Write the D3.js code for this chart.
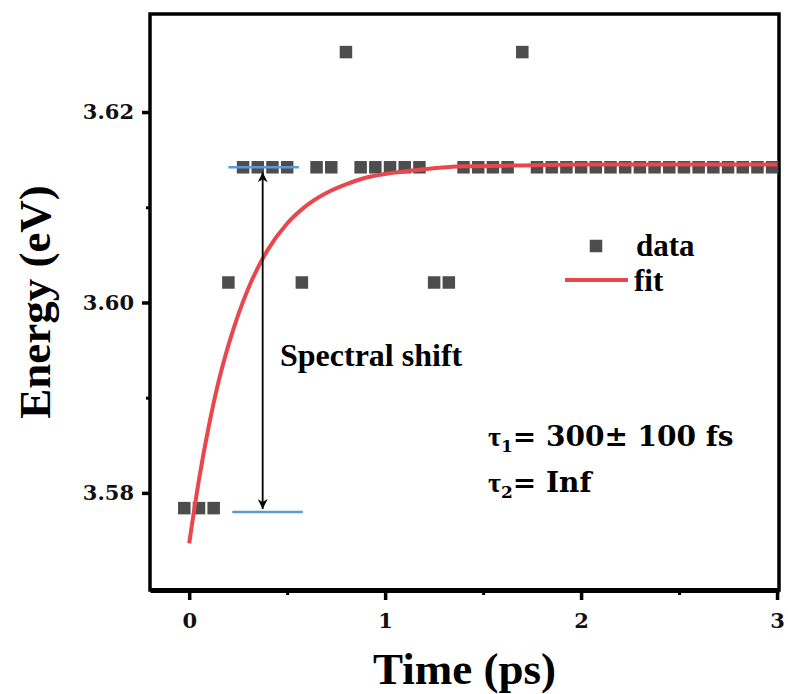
<!DOCTYPE html>
<html>
<head>
<meta charset="utf-8">
<script src="https://cdn.jsdelivr.net/npm/d3@7"></script>
<style>
  body { margin: 0; background: #fff; }
  svg { display: block; }
</style>
</head>
<body>
<div id="chart"></div>
<script>
// measured data (time in ps, energy in eV)
const times = [-0.025, 0.05, 0.125, 0.2, 0.275, 0.35, 0.425, 0.5, 0.575, 0.65,
  0.725, 0.8, 0.875, 0.95, 1.025, 1.1, 1.175, 1.25, 1.325, 1.4,
  1.475, 1.55, 1.625, 1.7, 1.775, 1.85, 1.925, 2.0, 2.075, 2.15,
  2.225, 2.3, 2.375, 2.45, 2.525, 2.6, 2.675, 2.75, 2.825, 2.9, 2.975];
const energies = [3.5784, 3.5784, 3.5784, 3.6021, 3.6142, 3.6142, 3.6142, 3.6142, 3.6021, 3.6142,
  3.6142, 3.6263, 3.6142, 3.6142, 3.6142, 3.6142, 3.6142, 3.6021, 3.6021, 3.6142,
  3.6142, 3.6142, 3.6142, 3.6263, 3.6142, 3.6142, 3.6142, 3.6142, 3.6142, 3.6142,
  3.6142, 3.6142, 3.6142, 3.6142, 3.6142, 3.6142, 3.6142, 3.6142, 3.6142, 3.6142, 3.6142];

// fit curve
const fitTimes = [0, 0.05, 0.1, 0.15, 0.2, 0.25, 0.3, 0.4, 0.5, 0.6, 0.7, 0.8, 0.9, 1.0, 1.2, 1.4, 1.7, 2.0, 2.5, 3.0];
const fitEnergies = [3.5747, 3.5814, 3.5870, 3.5917, 3.5955, 3.5987, 3.6014, 3.6055, 3.6083, 3.6102,
  3.6115, 3.6124, 3.6131, 3.6135, 3.6140, 3.6143, 3.6144, 3.6145, 3.6145, 3.6145];

// spectral shift markers
const shiftTop = { t0: 0.2, t1: 0.56, e: 3.6142 };
const shiftBottom = { t0: 0.22, t1: 0.58, e: 3.5780 };
const shiftArrowT = 0.375;

const xTicks = [0, 1, 2, 3];
const xMinor = [0.5, 1.5, 2.5];
const yTicks = [3.58, 3.60, 3.62];
const yMinor = [3.59, 3.61];

const width = 788;
const height = 694;
const marginLeft = 150, marginRight = 9, marginTop = 14, marginBottom = 104;

const x = d3.scaleLinear([-0.2, 3.01], [marginLeft, width - marginRight]);
const y = d3.scaleLinear([3.5698, 3.6303], [height - marginBottom, marginTop]);

const svg = d3.select("#chart").append("svg")
    .attr("width", width)
    .attr("height", height)
    .attr("viewBox", [0, 0, width, height]);

const defs = svg.append("defs");
defs.append("marker")
    .attr("id", "head")
    .attr("viewBox", "0 0 10 10")
    .attr("refX", 10).attr("refY", 5)
    .attr("markerWidth", 15).attr("markerHeight", 10)
    .attr("markerUnits", "userSpaceOnUse")
    .attr("orient", "auto-start-reverse")
    .append("path")
    .attr("d", "M0,0L10,5L0,10L3,5Z")
    .attr("fill", "#000");

const tickFont = "'DejaVu Serif', serif";
const textFont = "'Liberation Serif', 'Times New Roman', serif";

// x axis
svg.append("g")
    .attr("transform", `translate(0,${height - marginBottom})`)
    .call(d3.axisBottom(x).tickValues(xTicks).tickFormat(d3.format("d")).tickSize(10).tickPadding(13).tickSizeOuter(0))
    .call(g => g.select(".domain").attr("stroke-width", 5))
    .call(g => g.selectAll(".tick line").attr("stroke-width", 3.5))
    .call(g => g.selectAll(".tick text")
        .attr("font-family", tickFont).attr("font-weight", "bold").attr("font-size", 21).attr("fill", "#111"));

svg.append("g")
    .attr("transform", `translate(0,${height - marginBottom})`)
    .call(d3.axisBottom(x).tickValues(xMinor).tickFormat("").tickSize(5).tickSizeOuter(0))
    .call(g => g.select(".domain").remove())
    .call(g => g.selectAll(".tick line").attr("stroke-width", 3));

// y axis
svg.append("g")
    .attr("transform", `translate(${marginLeft},0)`)
    .call(d3.axisLeft(y).tickValues(yTicks).tickFormat(d3.format(".2f")).tickSize(8).tickPadding(8).tickSizeOuter(0))
    .call(g => g.select(".domain").remove())
    .call(g => g.selectAll(".tick line").attr("stroke-width", 3.5))
    .call(g => g.selectAll(".tick text")
        .attr("font-family", tickFont).attr("font-weight", "bold").attr("font-size", 21).attr("fill", "#111"));

svg.append("g")
    .attr("transform", `translate(${marginLeft},0)`)
    .call(d3.axisLeft(y).tickValues(yMinor).tickFormat("").tickSize(4).tickSizeOuter(0))
    .call(g => g.select(".domain").remove())
    .call(g => g.selectAll(".tick line").attr("stroke-width", 3));

// frame
svg.append("rect")
    .attr("x", x.range()[0]).attr("y", y.range()[1])
    .attr("width", x.range()[1] - x.range()[0])
    .attr("height", y.range()[0] - y.range()[1])
    .attr("fill", "none")
    .attr("stroke", "#000")
    .attr("stroke-width", 3.5);

// data squares
const size = 12.5;
svg.append("g")
    .selectAll("rect")
    .data(times.map((t, i) => ({ t, e: energies[i] })))
    .join("rect")
    .attr("x", d => x(d.t) - size / 2)
    .attr("y", d => y(d.e) - size / 2)
    .attr("width", size)
    .attr("height", size)
    .attr("fill", "#4d4d4d");

// blue guide lines
[shiftTop, shiftBottom].forEach(s => {
  svg.append("line")
      .attr("x1", x(s.t0)).attr("x2", x(s.t1))
      .attr("y1", y(s.e)).attr("y2", y(s.e))
      .attr("stroke", "#5b9bd5")
      .attr("stroke-width", 2.5);
});

// fit
const line = d3.line()
    .x((d, i) => x(fitTimes[i]))
    .y(d => y(d))
    .curve(d3.curveMonotoneX);

svg.append("path")
    .attr("d", line(fitEnergies))
    .attr("fill", "none")
    .attr("stroke", "#e8474d")
    .attr("stroke-width", 4);

// double arrow
svg.append("line")
    .attr("x1", x(shiftArrowT)).attr("x2", x(shiftArrowT))
    .attr("y1", y(shiftTop.e) + 5).attr("y2", y(shiftBottom.e) - 3)
    .attr("stroke", "#000")
    .attr("stroke-width", 1.8)
    .attr("marker-start", "url(#head)")
    .attr("marker-end", "url(#head)");

svg.append("text")
    .attr("x", 280).attr("y", 366)
    .attr("font-family", textFont).attr("font-weight", "bold").attr("font-size", 32)
    .text("Spectral shift");

// legend
svg.append("rect")
    .attr("x", 596 - size / 2).attr("y", 246 - size / 2)
    .attr("width", size).attr("height", size)
    .attr("fill", "#4d4d4d");
svg.append("text")
    .attr("x", 636).attr("y", 256)
    .attr("font-family", textFont).attr("font-weight", "bold").attr("font-size", 31)
    .text("data");
svg.append("line")
    .attr("x1", 565).attr("x2", 628).attr("y1", 280).attr("y2", 280)
    .attr("stroke", "#e8474d").attr("stroke-width", 4);
svg.append("text")
    .attr("x", 634).attr("y", 291)
    .attr("font-family", textFont).attr("font-weight", "bold").attr("font-size", 31)
    .text("fit");

// time constants
const tau = [["1", "= 300± 100 fs", 446], ["2", "= Inf", 492]];
tau.forEach(([sub, rest, yy]) => {
  const t = svg.append("text")
      .attr("x", 488).attr("y", yy)
      .attr("font-family", tickFont).attr("font-weight", "bold").attr("font-size", 28);
  t.append("tspan").attr("font-family", textFont).text("τ");
  t.append("tspan").attr("font-size", 17).attr("dy", 6).text(sub);
  t.append("tspan").attr("dy", -6).text(rest);
});

// axis titles
svg.append("text")
    .attr("x", (x.range()[0] + x.range()[1]) / 2).attr("y", 684)
    .attr("text-anchor", "middle")
    .attr("font-family", textFont).attr("font-weight", "bold").attr("font-size", 45)
    .text("Time (ps)");

svg.append("text")
    .attr("transform", `translate(50,${(y.range()[0] + y.range()[1]) / 2}) rotate(-90)`)
    .attr("text-anchor", "middle")
    .attr("font-family", textFont).attr("font-weight", "bold").attr("font-size", 45)
    .text("Energy (eV)");
</script>
</body>
</html>
